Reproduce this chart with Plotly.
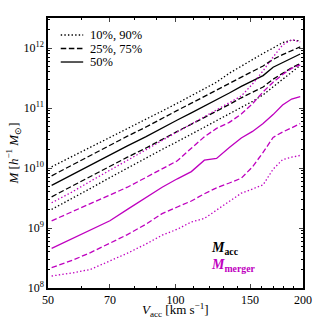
import plotly.graph_objects as go

# circular velocity at accretion [km/s]
v_acc = [51, 57, 63, 70, 77, 85, 93, 101, 109, 117, 125, 134, 143, 152, 161, 170, 179, 188, 197]

# log10 M [h^-1 Msun], percentiles of M_acc
logm_acc_10 = [9.31, 9.49, 9.66, 9.84, 10.00, 10.16, 10.31, 10.44, 10.56, 10.68, 10.79, 10.90, 11.01, 11.11, 11.22, 11.35, 11.47, 11.60, 11.71]
logm_acc_25 = [9.52, 9.70, 9.86, 10.03, 10.18, 10.33, 10.48, 10.61, 10.73, 10.84, 10.95, 11.06, 11.17, 11.26, 11.35, 11.48, 11.58, 11.67, 11.74]
logm_acc_50 = [9.71, 9.89, 10.05, 10.22, 10.37, 10.52, 10.67, 10.80, 10.92, 11.03, 11.14, 11.25, 11.36, 11.45, 11.54, 11.68, 11.76, 11.83, 11.90]
logm_acc_75 = [9.87, 10.05, 10.21, 10.37, 10.53, 10.68, 10.83, 10.96, 11.08, 11.19, 11.30, 11.41, 11.51, 11.61, 11.70, 11.81, 11.89, 11.96, 12.02]
logm_acc_90 = [10.02, 10.19, 10.35, 10.51, 10.66, 10.81, 10.95, 11.08, 11.21, 11.33, 11.43, 11.58, 11.70, 11.80, 11.91, 12.00, 12.09, 12.13, 12.12]

# percentiles of M_merger
logm_mer_10 = [8.20, 8.25, 8.31, 8.45, 8.58, 8.73, 8.88, 8.98, 9.10, 9.16, 9.30, 9.44, 9.58, 9.65, 9.72, 9.98, 10.14, 10.18, 10.21]
logm_mer_25 = [8.34, 8.46, 8.59, 8.75, 8.89, 9.06, 9.24, 9.35, 9.45, 9.57, 9.67, 9.75, 9.83, 10.02, 10.26, 10.51, 10.60, 10.67, 10.74]
logm_mer_50 = [8.66, 8.82, 8.97, 9.12, 9.31, 9.50, 9.68, 9.82, 9.94, 10.13, 10.16, 10.34, 10.50, 10.61, 10.74, 10.89, 11.05, 11.15, 11.19]
logm_mer_75 = [9.12, 9.27, 9.41, 9.55, 9.68, 9.84, 9.98, 10.12, 10.33, 10.52, 10.66, 10.76, 10.90, 11.07, 11.27, 11.43, 11.56, 11.66, 11.72]
logm_mer_90 = [9.42, 9.60, 9.78, 9.96, 10.13, 10.30, 10.46, 10.60, 10.73, 10.85, 10.96, 11.08, 11.20, 11.40, 11.62, 11.85, 12.05, 12.14, 12.10]

x_ticks = [50, 70, 100, 150, 200]
y_ticks = [1e8, 1e9, 1e10, 1e11, 1e12]
y_ticktext = ["10<sup>8</sup>", "10<sup>9</sup>", "10<sup>10</sup>", "10<sup>11</sup>", "10<sup>12</sup>"]
legend_labels = ["10%, 90%", "25%, 75%", "50%"]

BLACK = "black"
MAGENTA = "#bf00bf"
FONT = "Liberation Serif"
DOT = "1.4px,2.2px"
DASH = "5.5px,2.6px"

series = [
    (logm_acc_10, BLACK, DOT),
    (logm_acc_25, BLACK, DASH),
    (logm_acc_50, BLACK, "solid"),
    (logm_acc_75, BLACK, DASH),
    (logm_acc_90, BLACK, DOT),
    (logm_mer_10, MAGENTA, DOT),
    (logm_mer_25, MAGENTA, DASH),
    (logm_mer_50, MAGENTA, "solid"),
    (logm_mer_75, MAGENTA, DASH),
    (logm_mer_90, MAGENTA, DOT),
]

fig = go.Figure()
for logm, col, dash in series:
    fig.add_trace(go.Scatter(x=v_acc, y=[10 ** v for v in logm], mode="lines",
                             line=dict(color=col, dash=dash, width=1.3),
                             showlegend=False, hoverinfo="skip"))

# hand-drawn legend (top left)
for i, (label, dash) in enumerate(zip(legend_labels, [DOT, DASH, "solid"])):
    yy = 0.937 - i * 0.05
    fig.add_shape(type="line", xref="paper", yref="paper", x0=0.05, x1=0.138, y0=yy, y1=yy,
                  line=dict(color=BLACK, dash=dash, width=1.3))
    fig.add_annotation(x=0.155, y=yy, xref="paper", yref="paper", xanchor="left", yanchor="middle",
                       showarrow=False, text=label, font=dict(family=FONT, size=12.5, color=BLACK))

minor_x = [60, 80, 90, 110, 120, 130, 140, 160, 170, 180, 190]
minor_y = [m * 10 ** e for e in range(8, 13) for m in range(2, 10)]

fig.update_xaxes(type="log", range=[1.69897, 2.30103],
                 tickvals=x_ticks, ticktext=[str(t) for t in x_ticks],
                 ticks="inside", ticklen=4, tickwidth=1, mirror="allticks",
                 showline=True, linecolor="black", linewidth=1.5,
                 showgrid=False, zeroline=False,
                 minor=dict(tickvals=minor_x, ticks="inside", ticklen=2, tickcolor="black", showgrid=False),
                 tickfont=dict(family=FONT, size=12, color="black"))
fig.update_yaxes(type="log", range=[8, 12.5],
                 tickvals=y_ticks, ticktext=y_ticktext,
                 ticks="inside", ticklen=4, tickwidth=1, mirror="allticks",
                 showline=True, linecolor="black", linewidth=1.5,
                 showgrid=False, zeroline=False,
                 minor=dict(tickvals=minor_y, ticks="inside", ticklen=2, tickcolor="black", showgrid=False),
                 tickfont=dict(family=FONT, size=12, color="black"),
                 title=dict(text="<i>M</i> [<i>h</i><sup>−1</sup> <i>M</i><sub>⊙</sub>]",
                            font=dict(family=FONT, size=13, color="black"), standoff=2))

# x-axis title as annotation so it sits close to the tick labels
fig.add_annotation(x=0.5, y=-0.083, xref="paper", yref="paper", xanchor="center", yanchor="middle",
                   showarrow=False, text="<i>V</i><sub>acc</sub> [km s<sup>−1</sup>]",
                   font=dict(family=FONT, size=13, color="black"))

fig.add_annotation(x=0.632, y=0.148, xref="paper", yref="paper", xanchor="left", yanchor="middle",
                   showarrow=False, text="<b><i>M</i><sub>acc</sub></b>",
                   font=dict(family=FONT, size=14, color=BLACK))
fig.add_annotation(x=0.632, y=0.085, xref="paper", yref="paper", xanchor="left", yanchor="middle",
                   showarrow=False, text="<b><i>M</i><sub>merger</sub></b>",
                   font=dict(family=FONT, size=14, color=MAGENTA))

fig.update_layout(width=327, height=322,
                  margin=dict(l=42, r=24, t=18, b=34),
                  plot_bgcolor="white", paper_bgcolor="white",
                  showlegend=False)

# drop the browser's default body margin so the figure sits at the page corner
fig.write_html("out.html", config={"displayModeBar": False},
               post_script="document.body.style.margin='0';")
